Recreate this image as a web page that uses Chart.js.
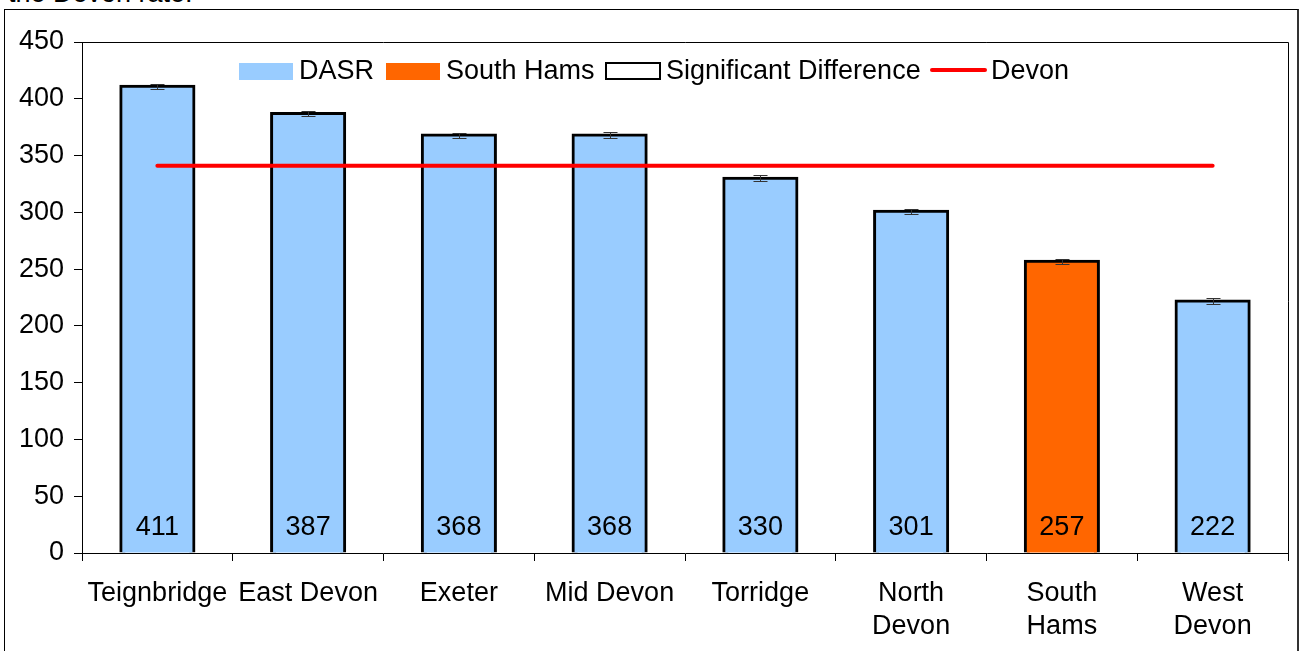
<!DOCTYPE html>
<html>
<head>
<meta charset="utf-8">
<script src="https://cdn.jsdelivr.net/npm/chart.js@4.4.0/dist/chart.umd.min.js"></script>
<style>
html,body{margin:0;padding:0;background:#fff;overflow:hidden}
#wrap{position:relative;width:1305px;height:651px}
#frame{position:absolute;left:4px;top:9px;width:1292px;height:660px;border-left:1px solid #000;border-top:1px solid #000;border-right:2px solid #333}
#note{position:absolute;left:8px;top:-22px;font:27px "Liberation Sans",Arial,sans-serif;color:#000}
canvas{position:absolute;left:0;top:0}
</style>
</head>
<body>
<div id="wrap">
<div id="note">the Devon rate.</div>
<div id="frame"></div>
<canvas id="chart" width="1305" height="651"></canvas>
</div>
<script>
const FONT='"Liberation Sans", Arial, sans-serif';
const FS=27;
const labels=["Teignbridge","East Devon","Exeter","Mid Devon","Torridge",["North","Devon"],["South","Hams"],["West","Devon"]];
const dasr=[411,387,368,368,330,301,257,222];
const errLow=[408.8,384.8,365.8,365.6,327.4,298.8,254.8,219.5];
const errHigh=[413.2,389.2,370.2,370.4,332.6,303.2,259.2,224.5];
const devon=[341,341,341,341,341,341,341,341];
const highlight=6; // South Hams
const yTicks=[0,50,100,150,200,250,300,350,400,450];

const BLUE="#99ccff", ORANGE="#ff6600";

// error bars, value labels, plot border and legend
const extras={
  id:"extras",
  afterDatasetsDraw(c){
    const {ctx,scales:{x,y}}=c;
    ctx.save();
    ctx.strokeStyle="#333";ctx.lineWidth=1;
    dasr.forEach((v,i)=>{
      const cx=Math.round(x.getPixelForValue(i))+0.5;
      const t=Math.round(y.getPixelForValue(errHigh[i]))+0.5, b=Math.round(y.getPixelForValue(errLow[i]))+0.5;
      ctx.beginPath();
      ctx.moveTo(cx,t);ctx.lineTo(cx,b);
      ctx.moveTo(cx-7,t);ctx.lineTo(cx+7,t);
      ctx.moveTo(cx-7,b);ctx.lineTo(cx+7,b);
      ctx.stroke();
    });
    ctx.fillStyle="#000";ctx.font=FS+"px "+FONT;ctx.textAlign="center";ctx.textBaseline="middle";
    dasr.forEach((v,i)=>ctx.fillText(String(v),x.getPixelForValue(i),y.getPixelForValue(0)-25));
    ctx.restore();
  },
  afterDraw(c){
    const {ctx,chartArea:a}=c;
    ctx.save();
    ctx.strokeStyle="#000";ctx.lineWidth=1;
    ctx.beginPath();
    ctx.moveTo(a.left,a.top+0.5);ctx.lineTo(a.right+0.5,a.top+0.5);ctx.lineTo(a.right+0.5,a.bottom+8);
    ctx.stroke();
    // legend
    ctx.font=FS+"px "+FONT;ctx.textBaseline="middle";ctx.textAlign="left";
    const ly=72;
    ctx.fillStyle=BLUE;ctx.fillRect(239,63,54,17);
    ctx.fillStyle="#000";ctx.fillText("DASR",299,ly);
    ctx.fillStyle=ORANGE;ctx.fillRect(386,63,54,17);
    ctx.fillStyle="#000";ctx.fillText("South Hams",446,ly);
    ctx.lineWidth=2;ctx.strokeRect(606,63,54,16);
    ctx.fillText("Significant Difference",666,ly);
    ctx.strokeStyle="#ff0000";ctx.lineWidth=4;ctx.lineCap="round";
    ctx.beginPath();ctx.moveTo(932,70);ctx.lineTo(985,70);ctx.stroke();
    ctx.fillText("Devon",991,ly);
    ctx.restore();
  }
};

new Chart(document.getElementById("chart"),{
  data:{labels,datasets:[
    {type:"line",label:"Devon",data:devon,borderColor:"#ff0000",borderWidth:4,pointRadius:0,borderCapStyle:"round",order:0},
    {type:"bar",label:"DASR",data:dasr,backgroundColor:dasr.map((v,i)=>i===highlight?ORANGE:BLUE),borderColor:"#000",borderWidth:3,inflateAmount:1.5,barPercentage:0.485,categoryPercentage:1,order:1}
  ]},
  options:{
    responsive:false,animation:false,
    layout:{padding:{left:0,top:42,right:17,bottom:0}},
    plugins:{legend:{display:false},tooltip:{enabled:false}},
    scales:{
      x:{
        grid:{drawOnChartArea:false,drawTicks:true,tickLength:8,color:"#000",offset:true},
        border:{display:true,color:"#000",width:1},
        ticks:{color:"#000",font:{family:FONT,size:FS,lineHeight:1.22},padding:16,maxRotation:0,autoSkip:false},
        afterFit(s){s.height=98;}
      },
      y:{
        min:0,max:450,
        afterBuildTicks(s){s.ticks=yTicks.map(v=>({value:v}));},
        grid:{drawOnChartArea:false,drawTicks:true,tickLength:8,color:"#000"},
        border:{display:true,color:"#000",width:1},
        ticks:{color:"#000",font:{family:FONT,size:FS},padding:10},
        afterFit(s){s.width=82;}
      }
    }
  },
  plugins:[extras]
});
</script>
</body>
</html>
